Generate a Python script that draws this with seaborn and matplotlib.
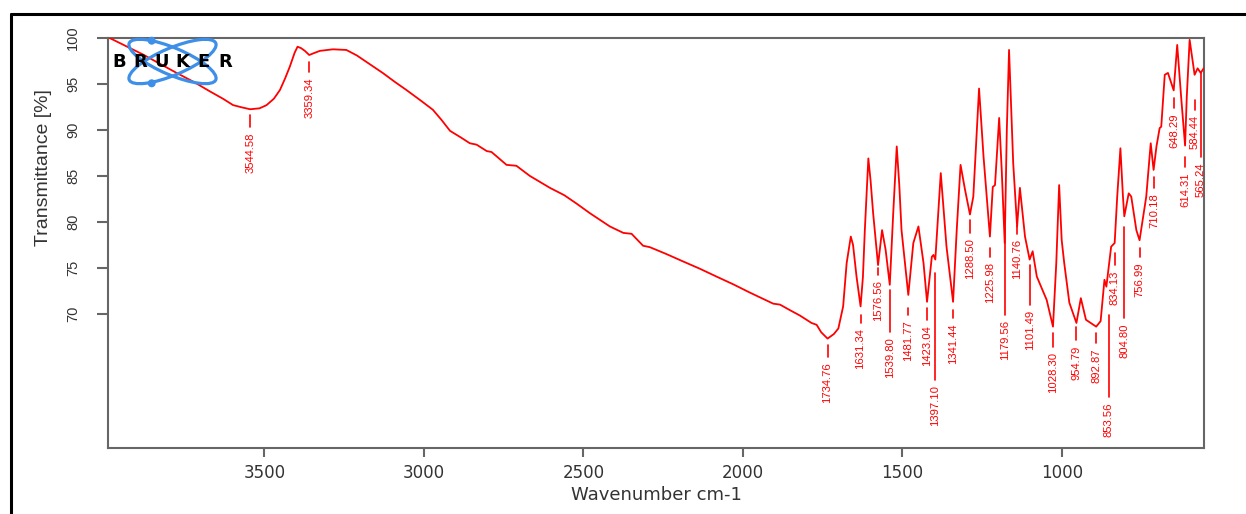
import matplotlib
matplotlib.use("Agg")
import matplotlib.pyplot as plt
import seaborn as sns
import pandas as pd
from matplotlib.patches import Ellipse, Circle
from matplotlib.lines import Line2D

# ---------------- data ----------------
wavenumber = [3985, 3880, 3775, 3720, 3671, 3630, 3598, 3570, 3544.58, 3515, 3493, 3470,
              3451, 3435, 3420, 3405, 3396, 3385, 3373, 3359.34, 3345, 3326, 3285, 3243,
              3210, 3180, 3129, 3090, 3055, 3010, 2972, 2945, 2918, 2885, 2856, 2835,
              2803, 2788, 2741, 2710, 2668, 2605, 2560, 2522, 2480, 2417, 2375, 2349,
              2313, 2292, 2240, 2188, 2135, 2083, 2030, 1978, 1905, 1884, 1853, 1821,
              1785, 1769, 1755, 1734.76, 1715, 1701, 1696, 1686, 1675, 1662, 1655, 1644,
              1631.34, 1624, 1618, 1607, 1600, 1592, 1576.56, 1564, 1553, 1539.80, 1529,
              1518, 1510, 1503, 1481.77, 1466, 1450, 1434, 1423.04, 1408, 1403, 1397.10,
              1380, 1362, 1341.44, 1330, 1318, 1304, 1288.50, 1278, 1260, 1246, 1225.98,
              1217, 1210, 1197, 1189, 1179.56, 1173, 1166, 1153, 1140.76, 1132, 1116,
              1101.49, 1092, 1079, 1048, 1028.30, 1018, 1009, 1001, 993, 977, 954.79,
              941, 925, 892.87, 879, 867, 861, 846, 835, 827, 817, 809, 804.80, 791,
              783, 767, 756.99, 736, 722, 713, 704, 694, 689, 678, 668, 650, 639, 626,
              614.31, 609, 600, 584.44, 575, 565.24, 556]
transmittance = [100.0, 98.2, 96.2, 95.2, 94.2, 93.4, 92.7, 92.45, 92.25, 92.35, 92.7, 93.4,
                 94.35, 95.6, 96.9, 98.4, 99.05, 98.9, 98.6, 98.15, 98.35, 98.6, 98.77, 98.7,
                 98.1, 97.4, 96.2, 95.2, 94.35, 93.2, 92.2, 91.1, 89.9, 89.2, 88.55, 88.4,
                 87.7, 87.6, 86.2, 86.1, 85.0, 83.7, 82.9, 82.0, 80.95, 79.5, 78.8, 78.7,
                 77.4, 77.25, 76.5, 75.7, 74.9, 74.05, 73.2, 72.3, 71.1, 71.0, 70.4, 69.8,
                 69.0, 68.8, 68.0, 67.3, 67.8, 68.4, 69.2, 70.8, 75.5, 78.4, 77.5, 74.05,
                 70.8, 74.0, 79.1, 86.9, 84.5, 80.95, 75.3, 79.1, 77.0, 73.15, 80.95,
                 88.2, 84.0, 79.1, 72.05, 77.7, 79.5, 75.5, 71.3, 76.2, 76.4, 75.9,
                 85.3, 77.3, 71.3, 79.1, 86.2, 83.5, 80.8, 82.75, 94.5, 87.1, 78.4,
                 83.8, 84.0, 91.3, 85.65, 77.7, 90.0, 98.7, 86.4, 79.5, 83.7, 78.4,
                 75.9, 76.8, 74.05, 71.5, 68.6, 75.5, 84.0, 78.0, 75.5, 71.2, 69.0,
                 71.7, 69.35, 68.6, 69.2, 73.7, 72.95, 77.3, 77.7, 82.75, 88.0, 82.75, 80.6, 83.1,
                 82.75, 79.1, 78.0, 82.75, 88.55, 85.65, 88.2, 90.2, 90.35, 96.0, 96.2, 94.3, 99.25, 93.3,
                 88.3, 93.6, 99.8, 96.0, 96.7, 96.2, 96.7]

peak_positions = [3544.58, 3359.34, 1734.76, 1631.34, 1576.56, 1539.80, 1481.77, 1423.04,
                  1397.10, 1341.44, 1288.50, 1225.98, 1179.56, 1140.76, 1101.49, 1028.30,
                  954.79, 892.87, 853.56, 834.13, 804.80, 756.99, 710.18, 648.29, 614.31,
                  584.44, 565.24]
peak_labels = ["3544.58", "3359.34", "1734.76", "1631.34", "1576.56", "1539.80", "1481.77",
               "1423.04", "1397.10", "1341.44", "1288.50", "1225.98", "1179.56", "1140.76",
               "1101.49", "1028.30", "954.79", "892.87", "853.56", "834.13", "804.80",
               "756.99", "710.18", "648.29", "614.31", "584.44", "565.24"]

# layout of the peak markers (top / bottom of the marker line, in % T)
marker_top = [91.63, 97.42, 66.63, 69.89, 75.0, 72.61, 70.65, 70.65, 74.46, 70.43, 80.22,
              77.17, 79.46, 79.57, 75.33, 67.93, 68.59, 67.93, 69.89, 76.63, 79.46, 77.17,
              84.89, 93.48, 87.07, 93.26, 96.2]
marker_bottom = [90.33, 96.34, 65.33, 69.02, 74.24, 68.04, 69.89, 69.35, 62.83, 69.57, 78.8,
                 76.2, 69.89, 78.7, 70.98, 66.41, 67.17, 66.85, 60.98, 75.33, 69.57, 76.2,
                 83.7, 92.39, 85.98, 92.17, 87.07]

x_ticks = [3500, 3000, 2500, 2000, 1500, 1000]
y_ticks = [70, 75, 80, 85, 90, 95, 100]

# ---------------- figure ----------------
sns.set_style("white")
W, H = 1246, 514
fig = plt.figure(figsize=(W / 100, H / 100), dpi=100)
ax = fig.add_axes([108 / W, (H - 448) / H, 1096 / W, 410 / H])

df = pd.DataFrame({"wn": wavenumber, "T": transmittance})
sns.lineplot(data=df, x="wn", y="T", sort=False, estimator=None, color="#ff0000",
             linewidth=1.3, ax=ax, zorder=3)

ax.set_xlim(3990, 555)
ax.set_ylim(55.4, 100)
ax.set_xticks(x_ticks)
ax.set_yticks(y_ticks)
ax.set_xticklabels([str(t) for t in x_ticks], fontsize=12, family="DejaVu Sans", color="#333333")
ax.set_yticklabels([str(t) for t in y_ticks], fontsize=10.5,
                   family=["Liberation Sans", "DejaVu Sans"],
                   color="#333333", rotation=90, va="center")
ax.tick_params(axis="x", direction="out", length=6.5, width=1.5, color="#666666", pad=5,
               bottom=True)
ax.tick_params(axis="y", direction="out", length=8, width=1.5, color="#666666", pad=12,
               left=True)
for s in ax.spines.values():
    s.set_visible(True)
    s.set_color("#666666")
    s.set_linewidth(1.5)

ax.set_xlabel("Wavenumber cm-1", fontsize=13, family="DejaVu Sans", color="#333333", labelpad=3)
ax.set_ylabel("Transmittance [%]", fontsize=14, family=["Liberation Sans", "DejaVu Sans"],
              color="#333333")
ax.yaxis.set_label_coords(-0.0511, 0.683)

# peak annotations
for x, lab, t, b in zip(peak_positions, peak_labels, marker_top, marker_bottom):
    ax.plot([x, x], [t, b], color="#ff0000", lw=1.2, zorder=2)
    ax.text(x, b - 0.6, lab, rotation=90, ha="center", va="top", color="#ff0000",
            fontsize=8.1, family=["Liberation Sans", "DejaVu Sans"], zorder=2)

# ---------------- Bruker logo ----------------
tr = fig.dpi_scale_trans
cx, cy = 172.5 / 100, (H - 61.5) / 100
blue = "#3d8fe8"
for ang in (23, -23):
    fig.add_artist(Ellipse((cx, cy), 0.94, 0.27, angle=ang, transform=tr, fill=False,
                           edgecolor=blue, lw=2.3, zorder=10))
for py in (40.7, 83.3):
    fig.add_artist(Circle((151.7 / 100, (H - py) / 100), 0.04, transform=tr,
                          facecolor=blue, edgecolor="none", zorder=11))
for i, ch in enumerate("BRUKER"):
    fig.text((109 + 10.3 + i * 21.1) / W, (H - 62) / H, ch, ha="center", va="center",
             fontsize=13, fontweight="bold", family="DejaVu Sans", color="black", zorder=12)

# ---------------- outer frame ----------------
fig.add_artist(Line2D([11 / W, 1.0], [1 - 14 / H, 1 - 14 / H], color="black", lw=2.2,
                      transform=fig.transFigure))
fig.add_artist(Line2D([11 / W, 11 / W], [0, 1 - 14 / H], color="black", lw=2.2,
                      transform=fig.transFigure))

fig.savefig("out.png", dpi=100)
